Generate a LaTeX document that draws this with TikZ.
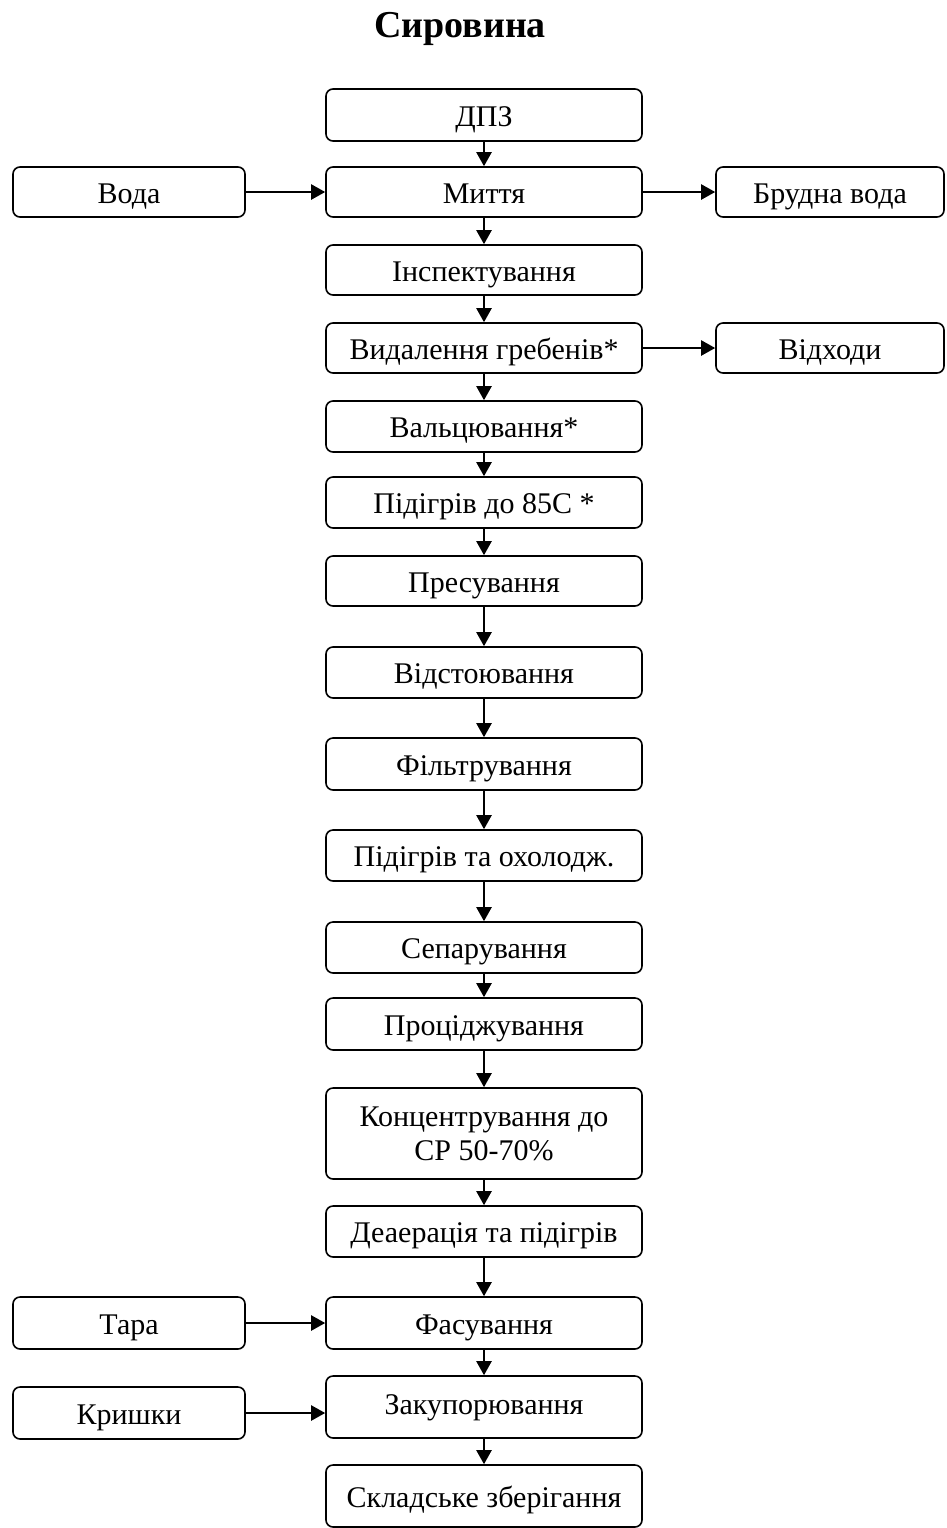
\documentclass[tikz,border=0pt]{standalone}
\usepackage{fontspec}
\setmainfont{Liberation Serif}
\usetikzlibrary{fit,arrows.meta}
\begin{document}
\begin{tikzpicture}[x=0.5pt,y=-0.5pt,
  box/.style={draw, line width=0.8pt, rounded corners=3.5pt, inner sep=0pt},
  txt/.style={font=\fontsize{15}{17}\selectfont, align=center, inner sep=0pt, text height=10.5pt, text depth=3.5pt, yshift=-2pt},
  txtt/.style={font=\fontsize{15}{17}\selectfont, align=center},
  arr/.style={line width=1.1pt, -{Triangle[length=7pt,width=7.5pt]}}]
\useasboundingbox (0,0) rectangle (947,1528);
\node[font=\fontsize{19}{23}\selectfont\bfseries, anchor=base] (title) at (460,37) {Сировина};
% main column
\node[box, fit={(326,89)(642,141)}, label={[txt]center:ДПЗ}] (dpz) {};
\node[box, fit={(326,167)(642,217)}, label={[txt]center:Миття}] (myt) {};
\node[box, fit={(13,167)(245,217)}, label={[txt]center:Вода}] (voda) {};
\node[box, fit={(716,167)(944,217)}, label={[txt]center:Брудна вода}] (brud) {};
\node[box, fit={(326,245)(642,295)}, label={[txt]center:Інспектування}] (insp) {};
\node[box, fit={(326,323)(642,373)}, label={[txt]center:Видалення гребенів*}] (vyd) {};
\node[box, fit={(716,323)(944,373)}, label={[txt]center:Відходи}] (vidh) {};
\node[box, fit={(326,401)(642,452)}, label={[txt]center:Вальцювання*}] (valc) {};
\node[box, fit={(326,477)(642,528)}, label={[txt]center:Підігрів до 85С *}] (pid) {};
\node[box, fit={(326,556)(642,606)}, label={[txt]center:Пресування}] (pres) {};
\node[box, fit={(326,647)(642,698)}, label={[txt]center:Відстоювання}] (vidst) {};
\node[box, fit={(326,738)(642,790)}, label={[txt]center:Фільтрування}] (filtr) {};
\node[box, fit={(326,830)(642,881)}, label={[txt]center:Підігрів та охолодж.}] (pidoh) {};
\node[box, fit={(326,922)(642,973)}, label={[txt]center:Сепарування}] (separ) {};
\node[box, fit={(326,998)(642,1050)}, label={[txt]center:Проціджування}] (proc) {};
\node[box, fit={(326,1088)(642,1179)}, label={[txtt]center:{Концентрування до\\СР 50-70\%}}] (konc) {};
\node[box, fit={(326,1206)(642,1257)}, label={[txt]center:Деаерація та підігрів}] (deaer) {};
\node[box, fit={(326,1297)(642,1349)}, label={[txt]center:Фасування}] (fas) {};
\node[box, fit={(13,1297)(245,1349)}, label={[txt]center:Тара}] (tara) {};
\node[box, fit={(326,1376)(642,1438)}, label={[txt, yshift=2pt]center:Закупорювання}] (zak) {};
\node[box, fit={(13,1387)(245,1439)}, label={[txt]center:Кришки}] (kry) {};
\node[box, fit={(326,1465)(642,1527)}, label={[txt]center:Складське зберігання}] (sklad) {};
% vertical arrows
\foreach \a/\b in {dpz/myt, myt/insp, insp/vyd, vyd/valc, valc/pid, pid/pres, pres/vidst, vidst/filtr, filtr/pidoh, pidoh/separ, separ/proc, proc/konc, konc/deaer, deaer/fas, fas/zak, zak/sklad}
  \draw[arr] (\a.south) -- (\b.north);
% horizontal arrows
\draw[arr] (voda.east) -- (myt.west);
\draw[arr] (myt.east) -- (brud.west);
\draw[arr] (vyd.east) -- (vidh.west);
\draw[arr] (tara.east) -- (fas.west);
\draw[arr] (kry.east) -- (kry.east -| zak.west);
\end{tikzpicture}
\end{document}
